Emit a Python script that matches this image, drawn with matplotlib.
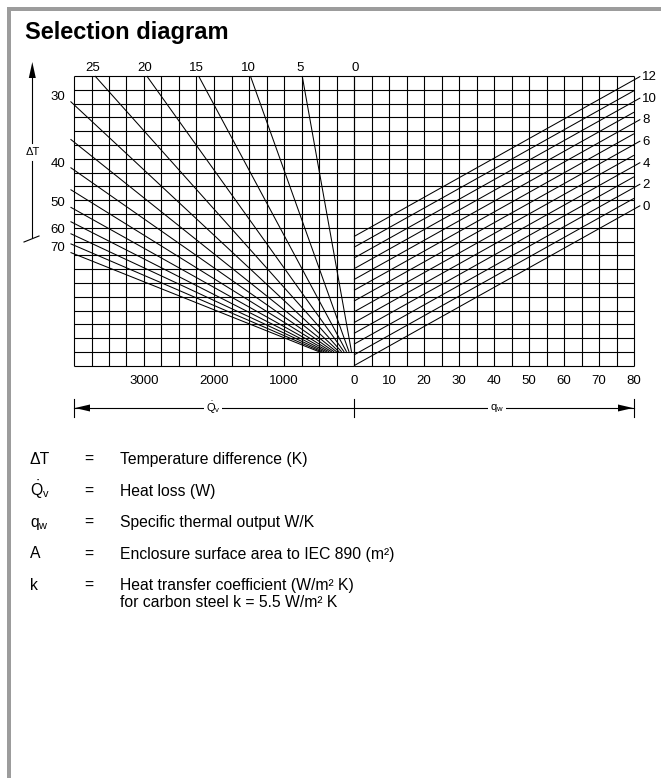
import numpy as np
import matplotlib
matplotlib.use("Agg")
import matplotlib.pyplot as plt
from matplotlib.patches import Rectangle, Polygon

plt.rcParams['font.family'] = ['Liberation Sans', 'DejaVu Sans']
plt.rcParams['mathtext.fontset'] = 'custom'
plt.rcParams['mathtext.rm'] = 'Liberation Sans'
plt.rcParams['mathtext.it'] = 'Liberation Sans:italic'
plt.rcParams['mathtext.bf'] = 'Liberation Sans:bold'

W, H = 661, 778

# ---- chart values ----
q_loss_ticks = [3000, 2000, 1000]            # heat loss scale (W), left half
qw_ticks = [0, 10, 20, 30, 40, 50, 60, 70, 80]  # specific thermal output (W/K), right half
dT_top = [25, 20, 15, 10, 5, 0]              # delta T lines leaving through the top edge
dT_side = [30, 35, 40, 45, 50, 55, 60, 65, 70]  # delta T lines leaving through the left edge
dT_side_labels = [30, 40, 50, 60, 70]
area_lines = [0, 1, 2, 3, 4, 5, 6, 7, 8, 9, 10, 11, 12]   # enclosure surface area (m2)
area_labels = [0, 2, 4, 6, 8, 10, 12]
k_steel = 5.5                                # W/m2 K

Q_MAX = 4000      # left edge of the grid (W)
QW_MAX = 80       # right edge of the grid (W/K)
V_MAX = 148       # vertical span of the grid (W/K)
N_COLS = 16       # per half
N_ROWS = 21

legend_symbols = ['\u0394T', r'$\dot{\mathrm{Q}}_{\mathrm{v}}$', r'$\mathrm{q}_{\mathrm{w}}$', 'A', 'k']
legend_texts = ['Temperature difference (K)',
                'Heat loss (W)',
                'Specific thermal output W/K',
                'Enclosure surface area to IEC 890 (m\u00b2)',
                'Heat transfer coefficient (W/m\u00b2 K)']
legend_extra = 'for carbon steel k = 5.5 W/m\u00b2 K'


def fx(x):
    return x / W


def fy(y):
    return 1 - y / H


fig = plt.figure(figsize=(W / 100, H / 100), dpi=100)

# overlay in pixel coordinates for the frame and annotations
ov = fig.add_axes([0, 0, 1, 1])
ov.set_xlim(0, W)
ov.set_ylim(H, 0)
ov.axis('off')

grey = '#9c9c9c'
ov.add_patch(Rectangle((7, 7), W - 7, 4, color=grey, lw=0))
ov.add_patch(Rectangle((7, 7), 4, H - 7, color=grey, lw=0))

fig.text(fx(25), fy(39.5), 'Selection diagram', fontsize=17, fontweight='bold',
         ha='left', va='baseline')

# grid position (pixels)
gx0, gxm, gx1 = 74, 354, 634
gy0, gy1 = 76, 365.7

axL = fig.add_axes([fx(gx0), fy(gy1), (gxm - gx0) / W, (gy1 - gy0) / H])
axR = fig.add_axes([fx(gxm), fy(gy1), (gx1 - gxm) / W, (gy1 - gy0) / H])
axL.set_xlim(Q_MAX, 0)
axR.set_xlim(0, QW_MAX)
for ax in (axL, axR):
    ax.set_ylim(0, V_MAX)
    ax.axis('off')
    ax.patch.set_alpha(0)

lw_grid = 0.8
lw_line = 0.75
fs = 9.5
rows = np.linspace(0, V_MAX, N_ROWS + 1)
axL.vlines(np.linspace(0, Q_MAX, N_COLS + 1), 0, V_MAX, color='black', lw=lw_grid, clip_on=False)
axR.vlines(np.linspace(0, QW_MAX, N_COLS + 1), 0, V_MAX, color='black', lw=lw_grid, clip_on=False)
axL.hlines(rows, 0, Q_MAX, color='black', lw=lw_grid, clip_on=False)
axR.hlines(rows, 0, QW_MAX, color='black', lw=lw_grid, clip_on=False)

# delta T fan (left half): Q = dT * v, starting one row above the bottom
v_lo = rows[1]
for dT in dT_top[:-1]:
    axL.plot([dT * v_lo, dT * V_MAX], [v_lo, V_MAX], color='black', lw=lw_line,
             clip_on=False, solid_capstyle='butt')
    axL.annotate(str(dT), xy=(dT * V_MAX, V_MAX), xytext=(-2, 8), textcoords='offset pixels',
                 ha='center', va='center', fontsize=fs, annotation_clip=False)
axL.annotate('0', xy=(0, V_MAX), xytext=(1, 8), textcoords='offset pixels',
             ha='center', va='center', fontsize=fs, annotation_clip=False)

q_ext = Q_MAX + 50
for dT in dT_side:
    axL.plot([dT * v_lo, q_ext], [v_lo, q_ext / dT], color='black', lw=lw_line,
             clip_on=False, solid_capstyle='butt')
    if dT in dT_side_labels:
        axL.annotate(str(dT), xy=(q_ext, q_ext / dT), xytext=(-5, 4), textcoords='offset pixels',
                     ha='right', va='center', fontsize=fs, annotation_clip=False)

# surface area lines (right half): v = qw + k * A
for A in area_lines:
    x_end = QW_MAX + 1.8 if A in area_labels else QW_MAX
    v0 = k_steel * A
    axR.plot([0, x_end], [v0, v0 + x_end], color='black', lw=lw_line, clip_on=False,
             solid_capstyle='butt')
    if A in area_labels:
        axR.annotate(str(A), xy=(x_end, v0 + x_end), xytext=(2, -1), textcoords='offset pixels',
                     ha='left', va='center', fontsize=fs, annotation_clip=False)

# bottom scale labels
for t in q_loss_ticks:
    axL.annotate(str(t), xy=(t, 0), xytext=(0, -15), textcoords='offset pixels',
                 ha='center', va='center', fontsize=fs, annotation_clip=False)
for t in qw_ticks:
    axR.annotate(str(t), xy=(t, 0), xytext=(0, -15), textcoords='offset pixels',
                 ha='center', va='center', fontsize=fs, annotation_clip=False)

# dimension arrows under the grid
ya = 408
ov.plot([gx0, gx1], [ya, ya], color='black', lw=0.8)
for xb in (gx0, gxm, gx1):
    ov.plot([xb, xb], [ya - 9, ya + 9], color='black', lw=0.8)
ov.add_patch(Polygon([[gx0 + 1, ya], [gx0 + 16, ya - 3.5], [gx0 + 16, ya + 3.5]], color='black', lw=0))
ov.add_patch(Polygon([[gx1 - 1, ya], [gx1 - 16, ya - 3.5], [gx1 - 16, ya + 3.5]], color='black', lw=0))
ov.text(213, ya, r'$\dot{\mathrm{Q}}_{\mathrm{v}}$', ha='center', va='center', fontsize=8,
        bbox=dict(facecolor='white', edgecolor='none', pad=1.5))
ov.text(497, ya, r'$\mathrm{q}_{\mathrm{w}}$', ha='center', va='center', fontsize=8,
        bbox=dict(facecolor='white', edgecolor='none', pad=1.5))

# delta T arrow on the left
xa = 32.3
ov.plot([xa, xa], [75, 143], color='black', lw=0.8)
ov.plot([xa, xa], [161, 237], color='black', lw=0.8)
ov.plot([24, 39], [242, 236], color='black', lw=0.8)
ov.add_patch(Polygon([[xa, 62], [xa - 3.5, 78], [xa + 3.5, 78]], color='black', lw=0))
ov.text(xa, 152, '\u0394T', ha='center', va='center', fontsize=8)

# legend
row_y = [463.5, 495.5, 527, 558.5, 590]
for sym, txt, y in zip(legend_symbols, legend_texts, row_y):
    ov.text(30, y, sym, ha='left', va='baseline', fontsize=11.3)
    ov.text(84, y, '=', ha='left', va='baseline', fontsize=11.3)
    ov.text(120, y, txt, ha='left', va='baseline', fontsize=11.3)
ov.text(120, row_y[-1] + 17, legend_extra, ha='left', va='baseline', fontsize=11.3)

fig.savefig('out.png', dpi=100)
